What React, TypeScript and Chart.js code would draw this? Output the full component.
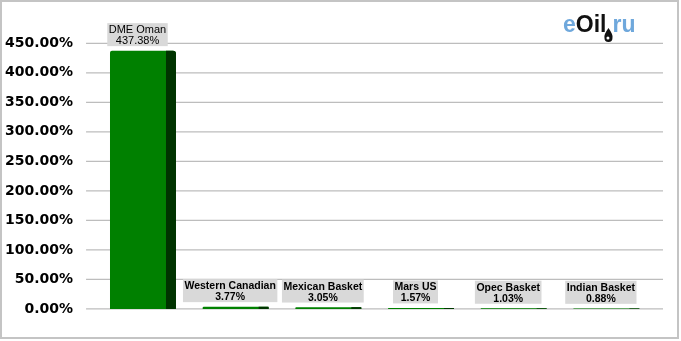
import React, { useEffect, useRef } from 'react';
import { Chart, registerables } from 'chart.js';

Chart.register(...registerables);

const categories = ['DME Oman', 'Western Canadian', 'Mexican Basket', 'Mars US', 'Opec Basket', 'Indian Basket'];
const values = [437.38, 3.77, 3.05, 1.57, 1.03, 0.88];
const yMin = 0;
const yMax = 450;
const yStep = 50;

const FRONT = '#008000';
const SIDE = '#003300';

const gridPlugin = {
  id: 'extGrid',
  beforeDatasetsDraw(chart: any) {
    const { ctx, chartArea } = chart;
    const ys = chart.scales.y;
    ctx.save();
    ctx.strokeStyle = '#bdbdbd';
    ctx.lineWidth = 1.2;
    ys.ticks.forEach((t: any) => {
      const y = ys.getPixelForValue(t.value);
      ctx.beginPath();
      ctx.moveTo(chartArea.left - 10.6, y);
      ctx.lineTo(chartArea.right + 10.3, y);
      ctx.stroke();
    });
    ctx.restore();
  },
};

const barDecorPlugin = {
  id: 'barDecor',
  afterDatasetsDraw(chart: any) {
    const { ctx } = chart;
    const meta = chart.getDatasetMeta(0);
    ctx.save();
    meta.data.forEach((bar: any, i: number) => {
      const { x, y, base, width } = bar.getProps(['x', 'y', 'base', 'width'], true);
      const right = x + width / 2;
      const h = base - y;
      const sw = 10;
      ctx.fillStyle = SIDE;
      ctx.beginPath();
      if ((ctx as any).roundRect && h > 4) {
        (ctx as any).roundRect(right - sw, y, sw, h, [0, 3, 1, 0]);
      } else {
        ctx.rect(right - sw, y, sw, h);
      }
      ctx.fill();

      // label
      const line1 = categories[i];
      const line2 = values[i].toFixed(2) + '%';
      const isFirst = i === 0;
      const font = isFirst ? '11px "Liberation Sans", Arial, sans-serif' : 'bold 10.5px "Liberation Sans", Arial, sans-serif';
      ctx.font = font;
      const tw = Math.max(ctx.measureText(line1).width, ctx.measureText(line2).width);
      const bw = tw + 3;
      const bh = 23;
      const cx = x - 5.5;
      const bottom = y - 4.6;
      const top = bottom - bh;
      ctx.fillStyle = '#d9d9d9';
      ctx.fillRect(cx - bw / 2, top, bw, bh);
      ctx.fillStyle = '#000000';
      ctx.textAlign = 'center';
      ctx.textBaseline = 'alphabetic';
      ctx.fillText(line1, cx, top + 10);
      ctx.fillText(line2, cx, top + 21);
    });
    ctx.restore();
  },
};

const framePlugin = {
  id: 'frame',
  afterDraw(chart: any) {
    const { ctx } = chart;
    ctx.save();
    // outer border
    ctx.strokeStyle = '#c4c4c4';
    ctx.lineWidth = 2;
    ctx.strokeRect(1, 1, 677, 337);
    // logo
    ctx.font = 'bold 23px "Liberation Sans", Arial, sans-serif';
    ctx.textBaseline = 'alphabetic';
    ctx.textAlign = 'left';
    let lx = 563;
    const ly = 32;
    const parts: [string, string][] = [['e', '#6fa8dc'], ['Oil', '#111111'], ['.', '#111111'], ['ru', '#6fa8dc']];
    let dropX = 0;
    parts.forEach(([t, c]) => {
      if (t === '.') {
        dropX = lx + 2;
        lx += 6;
        return;
      }
      ctx.fillStyle = c;
      ctx.fillText(t, lx, ly);
      lx += ctx.measureText(t).width;
    });
    // drop icon
    ctx.fillStyle = '#111111';
    ctx.beginPath();
    ctx.moveTo(dropX, ly - 4);
    ctx.quadraticCurveTo(dropX + 5, ly + 3, dropX + 4, ly + 6);
    ctx.arc(dropX, ly + 6, 4, 0, Math.PI, false);
    ctx.quadraticCurveTo(dropX - 5, ly + 3, dropX, ly - 4);
    ctx.fill();
    ctx.fillStyle = '#ffffff';
    ctx.beginPath();
    ctx.arc(dropX - 0.5, ly + 6, 1.5, 0, Math.PI * 2);
    ctx.fill();
    ctx.restore();
  },
};

export default function App() {
  const ref = useRef<HTMLCanvasElement | null>(null);

  useEffect(() => {
    document.body.style.margin = '0';
    if (!ref.current) return;
    const chart = new Chart(ref.current, {
      type: 'bar',
      data: {
        labels: categories,
        datasets: [
          {
            data: values,
            backgroundColor: FRONT,
            borderWidth: 0,
            borderRadius: { topLeft: 2, topRight: 3 },
            borderSkipped: 'bottom',
            barPercentage: 0.712,
            categoryPercentage: 1,
          },
        ],
      },
      options: {
        animation: false,
        responsive: true,
        maintainAspectRatio: false,
        layout: { padding: { top: 43.3, bottom: 30.3, right: 28.3, left: 0 } },
        plugins: {
          legend: { display: false },
          tooltip: { enabled: false },
        },
        scales: {
          x: { display: false, offset: true, grid: { display: false } },
          y: {
            min: yMin,
            max: yMax,
            grid: { display: false, drawTicks: false },
            border: { display: false },
            afterFit: (scale: any) => {
              scale.width = 96.65;
            },
            ticks: {
              stepSize: yStep,
              padding: 23.65,
              color: '#000000',
              font: { family: '"DejaVu Sans", Verdana, sans-serif', size: 14, weight: 'bold' },
              callback: (v: any) => Number(v).toFixed(2) + '%',
            },
          },
        },
      },
      plugins: [gridPlugin, barDecorPlugin, framePlugin],
    });
    return () => chart.destroy();
  }, []);

  return (
    <div style={{ position: 'relative', width: 681, height: 341 }}>
      <canvas ref={ref} />
    </div>
  );
}
